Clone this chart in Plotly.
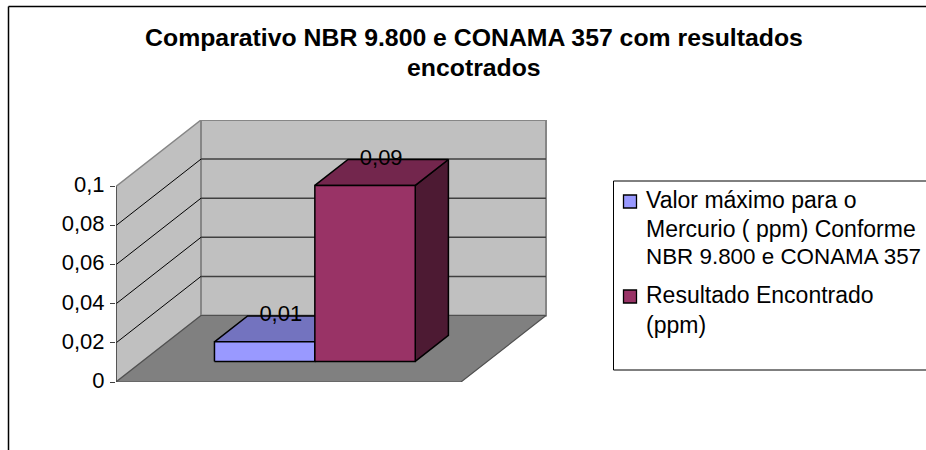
import plotly.graph_objects as go

# ---- data ----
title_lines = ["Comparativo NBR 9.800 e CONAMA 357 com resultados", "encotrados"]
series_names = [
    ["Valor máximo para o", "Mercurio ( ppm) Conforme", "NBR 9.800 e CONAMA 357"],
    ["Resultado Encontrado", "(ppm)"],
]
series_values = [0.01, 0.09]
value_labels = ["0,01", "0,09"]
tick_values = [0, 0.02, 0.04, 0.06, 0.08, 0.1]
tick_labels = ["0", "0,02", "0,04", "0,06", "0,08", "0,1"]

# ---- styles ----
front_colors = ["#9999ff", "#993366"]
top_colors = ["#7373bf", "#73264d"]
side_colors = ["#4d4d80", "#4d1a33"]
WALL = "#c0c0c0"
WALL_EDGE = "#868686"
FLOOR = "#808080"
FONT = "Liberation Sans, Arial, sans-serif"
FS = 22
TITLE_FS = 24.8

# ---- layout of the figure (pixels) ----
W, H = 926, 450
L, R, T, B = 116, 379, 120, 68
PW, PH = W - L - R, H - T - B


def px(x):
    return (x - L) / PW


def py(y):
    return 1 - (y - T) / PH


# ---- oblique projection, in axis units ----
X_RANGE = PW / 345          # floor width is one category
Y_RANGE = PH / 1955         # 0.1 on the value axis is 195.5 px
DX = 85 / 345               # full depth, horizontal
DY = 66.5 / 1955            # full depth, vertical
GAP = 0.209
BAR_W = (1 - 2 * GAP) / 2
D0, D1 = 0.31, 0.70


def proj(x, v, d):
    return x + d * DX, v + d * DY


def poly(points, fill, line, width=1.5):
    xs, ys = zip(*[proj(*p) for p in points + points[:1]])
    return go.Scatter(x=xs, y=ys, mode="lines", fill="toself", fillcolor=fill,
                      line=dict(color=line, width=width), hoverinfo="skip",
                      showlegend=False, cliponaxis=False)


def seg(a, b, color, width=1.2):
    xs, ys = zip(proj(*a), proj(*b))
    return go.Scatter(x=xs, y=ys, mode="lines", line=dict(color=color, width=width),
                      hoverinfo="skip", showlegend=False, cliponaxis=False)


top = tick_values[-1]
fig = go.Figure()

# walls and floor
fig.add_trace(poly([(0, 0, 0), (0, top, 0), (0, top, 1), (0, 0, 1)], WALL, WALL_EDGE, 1.5))
fig.add_trace(poly([(0, 0, 1), (0, top, 1), (1, top, 1), (1, 0, 1)], WALL, WALL_EDGE, 2))
for v in tick_values[1:-1]:
    fig.add_trace(seg((0, v, 0), (0, v, 1), "#000000", 1))
    fig.add_trace(seg((0, v, 1), (1, v, 1), "#404040", 1.5))
fig.add_trace(poly([(0, 0, 0), (0, 0, 1), (1, 0, 1), (1, 0, 0)], FLOOR, "#505050", 1.2))
fig.add_trace(seg((0, 0, 0), (0, top, 0), "#404040", 1.5))

# bars
for i, v in enumerate(series_values):
    x0 = GAP + i * BAR_W
    x1 = x0 + BAR_W
    fig.add_trace(poly([(x1, 0, D0), (x1, v, D0), (x1, v, D1), (x1, 0, D1)],
                       side_colors[i], "#000000"))
    fig.add_trace(poly([(x0, v, D0), (x1, v, D0), (x1, v, D1), (x0, v, D1)],
                       top_colors[i], "#000000"))
    fig.add_trace(poly([(x0, 0, D0), (x1, 0, D0), (x1, v, D0), (x0, v, D0)],
                       front_colors[i], "#000000"))

# value labels
for i, v in enumerate(series_values):
    xc = GAP + (i + 0.5) * BAR_W
    lx, _ = proj(xc, v, 0.5)
    _, ly = proj(xc, v, D1)
    fig.add_trace(go.Scatter(x=[lx], y=[ly], mode="text", text=[value_labels[i]],
                             textposition="middle center",
                             textfont=dict(family=FONT, size=FS, color="#000000"),
                             hoverinfo="skip", showlegend=False, cliponaxis=False))

shapes = [
    dict(type="line", xref="paper", yref="paper", x0=px(8.5), x1=px(930), y0=py(6.5), y1=py(6.5),
         line=dict(color="#000000", width=1.5)),
    dict(type="line", xref="paper", yref="paper", x0=px(8.5), x1=px(8.5), y0=py(6.5), y1=py(455),
         line=dict(color="#000000", width=1.5)),
    dict(type="rect", xref="paper", yref="paper", x0=px(613.5), x1=px(940), y0=py(181), y1=py(370),
         line=dict(color="#000000", width=1), fillcolor="#ffffff"),
]
for color, y0, y1 in zip(front_colors, (195, 290), (208, 303)):
    shapes.append(dict(type="rect", xref="paper", yref="paper", x0=px(623.5), x1=px(636.5),
                       y0=py(y0), y1=py(y1), fillcolor=color, line=dict(color="#000000", width=1.3)))

annotations = [dict(text="<b>%s</b>" % title_lines[1], xref="paper", yref="paper", x=px(474), y=py(68),
                    xanchor="center", yanchor="middle", showarrow=False,
                    font=dict(family=FONT, size=TITLE_FS, color="#000000"))]
legend_y = [[199.5, 228.5, 256.5], [294.5, 324.5]]
legend_fs = [[23, 23, 22.4], [23, 23]]
for lines, ys, sizes in zip(series_names, legend_y, legend_fs):
    for line, y, size in zip(lines, ys, sizes):
        annotations.append(dict(text=line, xref="paper", yref="paper", x=px(643.5), y=py(y),
                                xanchor="left", yanchor="middle", showarrow=False,
                                font=dict(family=FONT, size=size, color="#000000")))

fig.update_layout(
    width=W, height=H, autosize=False,
    margin=dict(l=L, r=R, t=T, b=B, pad=0),
    paper_bgcolor="#ffffff", plot_bgcolor="#ffffff",
    showlegend=False, shapes=shapes, annotations=annotations,
    title=dict(text="<b>%s</b>" % title_lines[0], x=474 / W, xanchor="center",
               y=1 - 37 / H, yanchor="middle",
               font=dict(family=FONT, size=TITLE_FS, color="#000000")),
    xaxis=dict(range=[0, X_RANGE], visible=False, fixedrange=True),
    yaxis=dict(range=[0, Y_RANGE], tickmode="array", tickvals=tick_values, ticktext=tick_labels,
               ticks="outside", ticklen=5, tickwidth=1.3, tickcolor="#404040",
               showgrid=False, zeroline=False, showline=False, fixedrange=True,
               ticklabelstandoff=1, ticklabelshift=-2,
               tickfont=dict(family=FONT, size=FS, color="#000000")),
)

fig.write_html("out.html", config={"displayModeBar": False},
               post_script="document.body.style.margin='0';document.body.style.overflow='hidden';")
